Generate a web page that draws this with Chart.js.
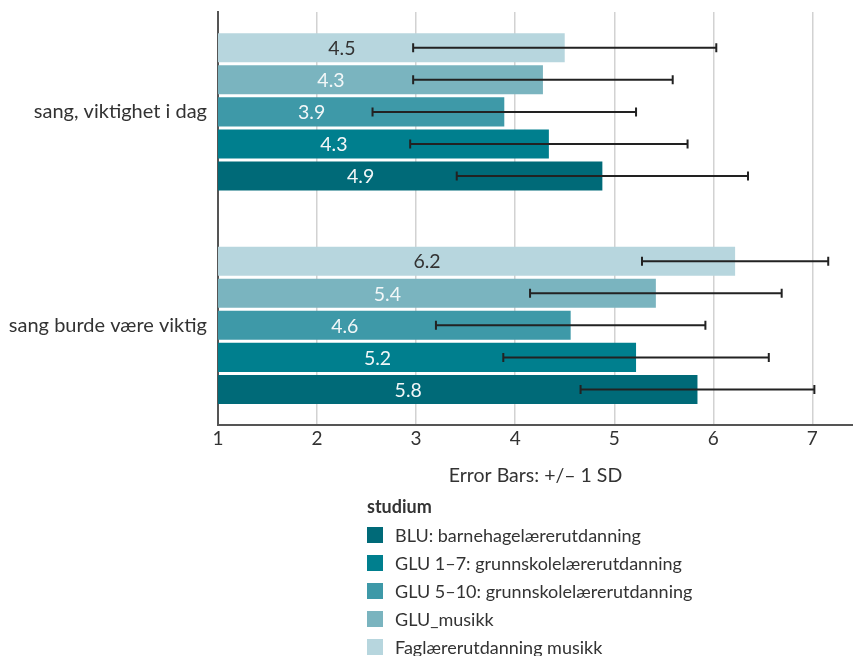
<!DOCTYPE html>
<html lang="no">
<head>
<meta charset="utf-8">
<title>sang</title>
<script src="https://cdn.jsdelivr.net/npm/chart.js@4.4.0/dist/chart.umd.min.js"></script>
<style>
  html, body { margin: 0; padding: 0; background: #fff; }
  #wrap { position: relative; width: 853px; height: 656px; overflow: hidden; font-family: Lato, sans-serif; color: #333; }
  #chartBox { position: absolute; left: 0; top: 0; width: 853px; height: 500px; }
  #legend { position: absolute; left: 367px; top: 495px; font-size: 18px; }
  #legend .title { font-weight: 700; margin-bottom: 4px; }
  #legend .item { display: flex; align-items: center; height: 28px; }
  #legend .box { width: 16px; height: 16px; margin-right: 12px; }
</style>
</head>
<body>
<div id="wrap">
  <div id="chartBox"><canvas id="chart"></canvas></div>
  <div id="legend"></div>
</div>
<script>
// spørsmål (kategorier på y-aksen)
const groups = ['sang, viktighet i dag', 'sang burde være viktig'];

// serier, ovenfra og ned i hver gruppe
const seriesNames = [
  'Faglærerutdanning musikk',
  'GLU_musikk',
  'GLU 5–10: grunnskolelærerutdanning',
  'GLU 1–7: grunnskolelærerutdanning',
  'BLU: barnehagelærerutdanning'
];
const seriesColors = ['#b7d6de', '#7ab4bf', '#3e99a8', '#007f8e', '#006a78'];
const labelColors = ['#333333', '#f2f7f8', '#f2f7f8', '#f2f7f8', '#f2f7f8'];

// gjennomsnitt per serie, [i dag, burde]
const fagMean = [4.50, 6.22];
const gluMusMean = [4.28, 5.42];
const glu510Mean = [3.89, 4.56];
const glu17Mean = [4.34, 5.22];
const bluMean = [4.88, 5.84];

// standardavvik per serie
const fagSd = [1.53, 0.94];
const gluMusSd = [1.31, 1.27];
const glu510Sd = [1.33, 1.36];
const glu17Sd = [1.40, 1.34];
const bluSd = [1.47, 1.18];

const xTicks = [1, 2, 3, 4, 5, 6, 7];

const means = [fagMean, gluMusMean, glu510Mean, glu17Mean, bluMean];
const sds = [fagSd, gluMusSd, glu510Sd, glu17Sd, bluSd];

const FONT = 'Lato, sans-serif';

// verdier inne i stolpene + feilstolper (±1 SD)
const barExtras = {
  id: 'barExtras',
  afterDatasetsDraw(chart) {
    const { ctx } = chart;
    const x = chart.scales.x;
    ctx.save();
    ctx.font = '19.5px ' + FONT;
    ctx.textAlign = 'center';
    ctx.textBaseline = 'middle';
    chart.data.datasets.forEach((ds, i) => {
      chart.getDatasetMeta(i).data.forEach((bar, j) => {
        ctx.fillStyle = labelColors[i];
        ctx.fillText(ds.data[j].x.toFixed(1), (bar.x + bar.base) / 2, bar.y + 1);
      });
    });
    ctx.strokeStyle = '#222';
    ctx.lineWidth = 2;
    chart.data.datasets.forEach((ds, i) => {
      chart.getDatasetMeta(i).data.forEach((bar, j) => {
        const m = ds.data[j].x, s = ds.sd[j];
        const lo = x.getPixelForValue(m - s);
        const hi = x.getPixelForValue(m + s);
        const y = bar.y;
        ctx.beginPath();
        ctx.moveTo(lo, y); ctx.lineTo(hi, y);
        ctx.moveTo(lo, y - 4.5); ctx.lineTo(lo, y + 4.5);
        ctx.moveTo(hi, y - 4.5); ctx.lineTo(hi, y + 4.5);
        ctx.stroke();
      });
    });
    ctx.restore();
  }
};

new Chart(document.getElementById('chart'), {
  type: 'bar',
  data: {
    datasets: seriesNames.map((name, i) => ({
      label: name,
      data: means[i].map((v, j) => ({ x: v, y: j })),
      sd: sds[i],
      backgroundColor: seriesColors[i],
      borderWidth: 0,
      categoryPercentage: 0.751,
      barPercentage: 0.906
    }))
  },
  options: {
    indexAxis: 'y',
    responsive: true,
    maintainAspectRatio: false,
    animation: false,
    layout: { padding: { top: 12, right: 0, bottom: 13, left: 0 } },
    plugins: { legend: { display: false }, tooltip: { enabled: false } },
    scales: {
      x: {
        type: 'linear',
        min: 1,
        max: 7.41,
        afterBuildTicks: (scale) => { scale.ticks = xTicks.map(v => ({ value: v })); },
        afterFit: (scale) => { scale.height = 62; },
        ticks: { color: '#333', font: { family: FONT, size: 19 }, padding: 2 },
        grid: { color: '#d2d2d2', lineWidth: 1.5, drawTicks: false },
        border: { display: true, color: '#555', width: 2 },
        title: {
          display: true,
          text: 'Error Bars: +/– 1 SD',
          color: '#333',
          font: { family: FONT, size: 19.5 },
          padding: { top: 10, bottom: 0 }
        }
      },
      y: {
        type: 'linear',
        reverse: true,
        offset: false,
        bounds: 'data',
        min: -0.468,
        max: 1.467,
        afterBuildTicks: (scale) => { scale.ticks = groups.map((_, i) => ({ value: i })); },
        afterFit: (scale) => {
          scale.width = 218;
          scale.paddingTop = 0;
          scale.paddingBottom = 0;
        },
        ticks: {
          color: '#333',
          font: { family: FONT, size: 20 },
          padding: 11,
          callback: (v) => groups[v]
        },
        grid: { display: false, drawTicks: false, offset: false },
        border: { display: true, color: '#555', width: 2 }
      }
    }
  },
  plugins: [barExtras]
});

// tegnforklaring, BLU øverst
const legend = document.getElementById('legend');
legend.innerHTML = '<div class="title">studium</div>';
for (let i = seriesNames.length - 1; i >= 0; i--) {
  const row = document.createElement('div');
  row.className = 'item';
  row.innerHTML = '<span class="box" style="background:' + seriesColors[i] + '"></span><span>' + seriesNames[i] + '</span>';
  legend.appendChild(row);
}
</script>
</body>
</html>
